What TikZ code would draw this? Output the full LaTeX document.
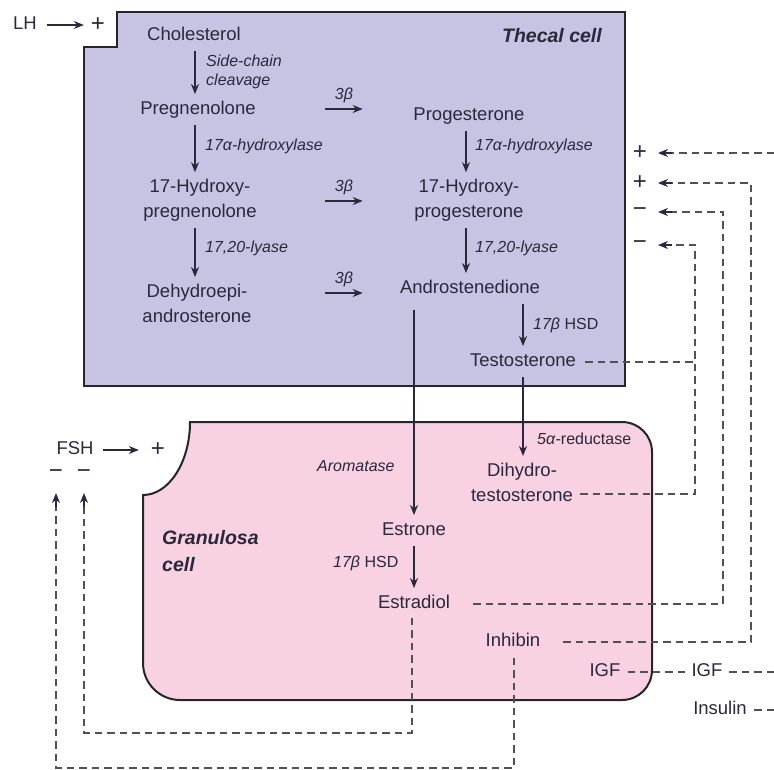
\documentclass[tikz,border=0pt]{standalone}
\usepackage{fontspec}
\setmainfont{Liberation Sans}
\usetikzlibrary{arrows.meta}
\definecolor{thecal}{RGB}{198,196,226}
\definecolor{granul}{RGB}{248,209,226}
\definecolor{txt}{RGB}{42,40,58}
\definecolor{bord}{RGB}{40,36,44}
\definecolor{dsh}{RGB}{80,80,86}
\tikzset{
  mainlbl/.style={font=\fontsize{18.5}{25}\selectfont, text=txt, inner sep=2pt, text height=13.5pt, text depth=4pt},
  mainml/.style={font=\fontsize{18.5}{25}\selectfont, text=txt, inner sep=2pt, align=center},
  enz/.style={font=\fontsize{16}{19}\selectfont\itshape, text=txt, inner sep=1pt, anchor=west, align=left},
  enzup/.style={font=\fontsize{16}{19}\selectfont, text=txt, inner sep=1pt, anchor=west},
  cellname/.style={font=\fontsize{19.5}{27}\selectfont\bfseries\itshape, text=txt, inner sep=1pt, align=left},
  sgn/.style={font=\fontsize{24}{24}\selectfont, text=txt, inner sep=1pt},
  three/.style={font=\fontsize{16}{19}\selectfont\itshape, text=txt, inner sep=0pt, minimum width=37pt, text height=12pt, text depth=9pt, anchor=south},
  arr/.style={draw=txt, line width=1.3pt, -{Stealth[length=10pt,width=8pt]}, shorten <=4pt, shorten >=5pt},
  dline/.style={draw=dsh, line width=1.4pt, dash pattern=on 7.5pt off 5pt},
  tipsolid/.style={draw=txt, line width=1.3pt, -{Stealth[length=10pt,width=8pt]}, shorten <=0pt},
}
\begin{document}
\begin{tikzpicture}[x=1pt,y=-1pt]
\useasboundingbox (0,0) rectangle (774,769);
% cells
\draw[fill=thecal, draw=bord, line width=2pt, line join=miter]
  (117,12) -- (625,12) -- (625,386) -- (84,386) -- (84,47) -- (117,47) -- cycle;
\draw[fill=granul, draw=bord, line width=2pt]
  (190,422) -- (622,422) .. controls (638.6,422) and (652,435.4) .. (652,452)
  -- (652,670) .. controls (652,686.6) and (638.6,700) .. (622,700)
  -- (180,700) .. controls (159.6,700) and (143,683.4) .. (143,663)
  -- (143,495) .. controls (169,495) and (190,462) .. (190,422) -- cycle;

\node[cellname, anchor=east] (thecal) at (603,36) {Thecal cell};
\node[cellname, anchor=west] (granname) at (161,551) {Granulosa\\cell};

% thecal pathway
\node[mainlbl] (chol) at (194,36) {Cholesterol};
\node[mainlbl] (preg) at (198,110) {Pregnenolone};
\node[mainml] (ohpreg) at (200,200.5) {17-Hydroxy-\\pregnenolone};
\node[mainml] (dhea) at (197,303.5) {Dehydroepi-\\androsterone};
\node[mainlbl] (prog) at (469,116) {Progesterone};
\node[mainml] (ohprog) at (469,200.5) {17-Hydroxy-\\progesterone};
\node[mainlbl] (andro) at (470,289) {Androstenedione};
\node[mainlbl] (testo) at (523,362) {Testosterone};

\node[enz] (scc) at (205,71.5) {Side-chain\\cleavage};
\node[enz] (hyd1) at (204,146) {17α-hydroxylase};
\node[enz] (lya1) at (204,248) {17,20-lyase};
\node[enz] (hyd2) at (474,146) {17α-hydroxylase};
\node[enz] (lya2) at (474,248) {17,20-lyase};
\node[enzup] (hsd1) at (532,325) {\textit{17β} HSD};

\draw[arr] (chol.south -| 195,0) -- (preg.north -| 195,0);
\draw[arr] (preg.south -| 195,0) -- (ohpreg.north -| 195,0);
\draw[arr] (ohpreg.south -| 195,0) -- (dhea.north -| 195,0);
\draw[arr] (prog.south -| 466,0) -- (ohprog.north -| 466,0);
\draw[arr] (ohprog.south -| 466,0) -- (andro.north -| 466,0);
\draw[arr] (andro.south -| testo.north) -- (testo.north);

\node[three] (tb1) at (344,109) {3β};
\node[three] (tb2) at (344,201) {3β};
\node[three] (tb3) at (344,293) {3β};
\draw[arr, shorten <=0pt, shorten >=0pt] (tb1.south west) -- (tb1.south east);
\draw[arr, shorten <=0pt, shorten >=0pt] (tb2.south west) -- (tb2.south east);
\draw[arr, shorten <=0pt, shorten >=0pt] (tb3.south west) -- (tb3.south east);

% LH
\node[mainlbl] (lh) at (25,25) {LH};
\node[sgn] (lhp) at (98,25) {+};
\draw[arr, shorten <=8pt, shorten >=6pt] (lh.east) -- (lhp.west);

% granulosa pathway
\node[mainlbl] (estrone) at (414,531) {Estrone};
\node[mainlbl] (estradiol) at (414,604) {Estradiol};
\node[mainml] (dht) at (522,482.5) {Dihydro-\\testosterone};
\node[mainlbl] (inhib) at (513,642) {Inhibin};
\node[mainlbl] (igfin) at (605,672) {IGF};
\node[mainlbl] (igfout) at (707,672) {IGF};
\node[mainlbl] (ins) at (720,710) {Insulin};

\node[enz] (arom) at (316,466) {Aromatase};
\node[enzup] (hsd2) at (332,563) {\textit{17β} HSD};
\node[enzup] (red) at (536,439) {\textit{5α}-reductase};

\draw[arr, shorten <=10pt] (andro.south -| estrone.north) -- (estrone.north);
\draw[arr] (estrone.south) -- (estradiol.north);
\draw[arr] (testo.south) -- (testo.south |- dht.north);

% FSH
\node[mainlbl] (fsh) at (75,450) {FSH};
\node[sgn] (fshp) at (158,450) {+};
\draw[arr, shorten <=7pt, shorten >=11pt] (fsh.east) -- (fshp.west);
\node[sgn] (m1) at (56,474) {−};
\node[sgn] (m2) at (84,474) {−};

% right-side signs
\node[sgn] (p1) at (640,153) {+};
\node[sgn] (p2) at (640,183) {+};
\node[sgn] (m3) at (640,212) {−};
\node[sgn] (m4) at (640,245) {−};

% feedback coordinates
\coordinate (r1) at (774,153);
\coordinate (c2a) at (751,642);
\coordinate (c2b) at (751,183);
\coordinate (c3a) at (723,604);
\coordinate (c3b) at (723,212);
\coordinate (c4t) at (695,362);
\coordinate (c4a) at (695,494);
\coordinate (c4b) at (695,245);
\coordinate (r5) at (774,672);
\coordinate (r6) at (774,710);
\coordinate (e1) at (412,733);
\coordinate (e2) at (84,733);
\coordinate (i1) at (514,768);
\coordinate (i2) at (56,768);

\draw[dline, shorten >=26pt] (r1) -- (p1.center);
\draw[dline, shorten <=21pt, shorten >=26pt] (inhib.east) -- (c2a) -- (c2b) -- (p2.center);
\draw[dline, shorten <=21pt, shorten >=26pt] (estradiol.east) -- (c3a) -- (c3b) -- (m3.center);
\draw[dline, shorten <=7pt] (testo.east) -- (c4t);
\draw[dline, shorten <=5pt, shorten >=26pt] ([yshift=-11.5pt]dht.east) -- (c4a) -- (c4b) -- (m4.center);
\draw[dline, shorten <=4pt, shorten >=4pt] (igfout.west) -- (igfin.east);
\draw[dline, shorten >=4pt] (r5) -- (igfout.east);
\draw[dline, shorten >=4pt] (r6) -- (ins.east);
\draw[dline, shorten <=3pt, shorten >=27pt] (e1 |- estradiol.south) -- (e1) -- (e2) -- (m2.center);
\draw[dline, shorten <=5pt, shorten >=27pt] (i1 |- inhib.south) -- (i1) -- (i2) -- (m1.center);
% solid arrow tips at the ends of the dashed feedback lines
\draw[tipsolid, shorten >=18pt] ([xshift=32pt]p1.center) -- (p1.center);
\draw[tipsolid, shorten >=18pt] ([xshift=32pt]p2.center) -- (p2.center);
\draw[tipsolid, shorten >=18pt] ([xshift=32pt]m3.center) -- (m3.center);
\draw[tipsolid, shorten >=18pt] ([xshift=32pt]m4.center) -- (m4.center);
\draw[tipsolid, shorten >=19pt] ([yshift=-33pt]m1.center) -- (m1.center);
\draw[tipsolid, shorten >=19pt] ([yshift=-33pt]m2.center) -- (m2.center);
\end{tikzpicture}
\end{document}
